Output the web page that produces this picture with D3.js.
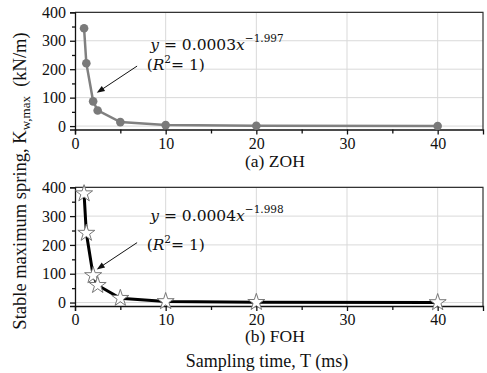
<!DOCTYPE html>
<html>
<head>
<meta charset="utf-8">
<script src="https://cdn.jsdelivr.net/npm/d3@7"></script>
<style>
  body { margin: 0; background: #fff; }
</style>
</head>
<body>
<svg id="chart" width="487" height="373"></svg>
<script>
// sampling time (ms)
const samplingTime = [1, 1.25, 2, 2.5, 5, 10, 20, 40];
// stable maximum spring (kN/m)
const zohValues = [344, 221, 87, 55, 14, 3.4, 0.9, 0.2];
const fohValues = [378, 241, 94, 60, 15, 3.8, 0.9, 0.2];
const xTicks = [0, 10, 20, 30, 40];
const yTicks = [0, 100, 200, 300, 400];

const SERIF = "Liberation Serif";
const MATH = "DejaVu Serif";

const svg = d3.select("#chart");
const left = 75, right = 483;

const x = d3.scaleLinear().domain([0, 45]).range([left, right]);

function drawPanel(cfg) {
    const y = d3.scaleLinear().domain([-12, 400]).range([cfg.bottom, cfg.top]);
    const g = svg.append("g");

    // grid
    g.selectAll(".vgrid").data(xTicks.slice(1))
        .enter().append("line")
        .attr("x1", d => x(d)).attr("x2", d => x(d))
        .attr("y1", cfg.top).attr("y2", cfg.bottom)
        .attr("stroke", "#d9d9d9").attr("stroke-width", 1);
    g.selectAll(".hgrid").data(yTicks)
        .enter().append("line")
        .attr("x1", left).attr("x2", right)
        .attr("y1", d => y(d)).attr("y2", d => y(d))
        .attr("stroke", "#d9d9d9").attr("stroke-width", 1);

    // frame top/right
    g.append("path")
        .attr("d", `M${left},${cfg.top}H${right}V${cfg.bottom}`)
        .attr("fill", "none").attr("stroke", "#333").attr("stroke-width", 1.2);

    // x axis
    g.append("g")
        .attr("transform", `translate(0,${cfg.bottom})`)
        .call(d3.axisBottom(x).tickValues(xTicks).tickSize(5).tickPadding(3).tickFormat(d3.format("d")));
    g.append("g")
        .attr("transform", `translate(0,${cfg.bottom})`)
        .call(d3.axisBottom(x).tickValues([5, 15, 25, 35]).tickSize(4).tickFormat(""))
        .call(s => s.select(".domain").remove());

    // y axis
    g.append("g")
        .attr("transform", `translate(${left},0)`)
        .call(d3.axisLeft(y).tickValues(yTicks).tickSize(5).tickPadding(4));
    g.append("g")
        .attr("transform", `translate(${left},0)`)
        .call(d3.axisLeft(y).tickValues([50, 150, 250, 350]).tickSize(3).tickFormat(""))
        .call(s => s.select(".domain").remove());

    g.selectAll(".tick text").attr("font-size", 16)
        .attr("font-family", SERIF).attr("fill", "#111");
    g.selectAll(".domain, .tick line").attr("stroke", "#111").attr("stroke-width", 1.3);

    // series line
    const line = d3.line().x((d, i) => x(samplingTime[i])).y(d => y(d));
    g.append("path")
        .datum(cfg.values)
        .attr("d", line)
        .attr("fill", "none")
        .attr("stroke", cfg.lineColor)
        .attr("stroke-width", cfg.lineWidth);

    // markers
    if (cfg.marker === "circle") {
        g.selectAll(".pt").data(cfg.values)
            .enter().append("circle")
            .attr("cx", (d, i) => x(samplingTime[i]))
            .attr("cy", d => y(d))
            .attr("r", 4.3)
            .attr("fill", "#7a7a7a");
    } else {
        g.selectAll(".pt").data(cfg.values)
            .enter().append("path")
            .attr("transform", (d, i) => `translate(${x(samplingTime[i])},${y(d)})`)
            .attr("d", d3.symbol().type(d3.symbolStar).size(90))
            .attr("fill", "#fff")
            .attr("stroke", "#777")
            .attr("stroke-width", 1);
    }

    // equation annotation
    const eq = g.append("text")
        .attr("x", x(cfg.eqPos[0])).attr("y", y(cfg.eqPos[1]))
        .attr("font-family", MATH).attr("fill", "#111")
        .attr("font-size", 15.5);
    eq.append("tspan").attr("font-style", "italic").text("y");
    eq.append("tspan").text(" = " + cfg.coef);
    eq.append("tspan").attr("font-style", "italic").text("x");
    eq.append("tspan").attr("dy", -8).attr("font-size", 10.5).text("\u2212" + cfg.expo);

    const r2 = g.append("text")
        .attr("x", x(cfg.r2Pos[0])).attr("y", y(cfg.r2Pos[1]))
        .attr("font-family", MATH).attr("fill", "#111")
        .attr("font-size", 15.5);
    r2.append("tspan").text("(");
    r2.append("tspan").attr("font-style", "italic").text("R");
    r2.append("tspan").attr("dy", -7).attr("font-size", 10.5).text("2");
    r2.append("tspan").attr("dy", 7).text("= 1)");

    // arrow
    const a0 = [x(cfg.arrow[0]), y(cfg.arrow[1])];
    const a1 = [x(cfg.arrow[2]), y(cfg.arrow[3])];
    const ang = Math.atan2(a1[1] - a0[1], a1[0] - a0[0]);
    g.append("line")
        .attr("x1", a0[0]).attr("y1", a0[1])
        .attr("x2", a1[0] - 5 * Math.cos(ang)).attr("y2", a1[1] - 5 * Math.sin(ang))
        .attr("stroke", "#111").attr("stroke-width", 1);
    const hl = 8, hw = 3;
    g.append("path")
        .attr("d", `M${a1[0]},${a1[1]}` +
            `L${a1[0] - hl * Math.cos(ang) + hw * Math.sin(ang)},${a1[1] - hl * Math.sin(ang) - hw * Math.cos(ang)}` +
            `L${a1[0] - hl * Math.cos(ang) - hw * Math.sin(ang)},${a1[1] - hl * Math.sin(ang) + hw * Math.cos(ang)}Z`)
        .attr("fill", "#111");

    // caption
    svg.append("text")
        .attr("x", 245).attr("y", cfg.captionY)
        .attr("font-family", SERIF).attr("fill", "#111")
        .attr("font-size", 17.5)
        .text(cfg.caption);
}

drawPanel({
    top: 12.3, bottom: 129.5,
    values: zohValues,
    lineColor: "#808080", lineWidth: 2.5, marker: "circle",
    coef: "0.0003", expo: "1.997",
    eqPos: [8.3, 268], r2Pos: [7.9, 196],
    arrow: [6.85, 211, 2.4, 117],
    caption: "(a) ZOH", captionY: 166.5
});

drawPanel({
    top: 187.3, bottom: 306,
    values: fohValues,
    lineColor: "#000", lineWidth: 3, marker: "star",
    coef: "0.0004", expo: "1.998",
    eqPos: [8.3, 282], r2Pos: [7.9, 184],
    arrow: [6.85, 208, 2.4, 115],
    caption: "(b) FOH", captionY: 342
});

// axis titles
svg.append("text")
    .attr("x", 267).attr("y", 367)
    .attr("text-anchor", "middle")
    .attr("font-family", SERIF).attr("fill", "#111")
    .attr("font-size", 18)
    .text("Sampling time, T (ms)");

const yl = svg.append("text")
    .attr("transform", "translate(26,181) rotate(-90)")
    .attr("text-anchor", "middle")
    .attr("font-family", SERIF).attr("fill", "#111")
    .attr("font-size", 18.5);
yl.append("tspan").text("Stable maximum spring, K");
yl.append("tspan").attr("dy", 4).attr("font-size", 13).text("w,max");
yl.append("tspan").attr("dy", -4).text("\u2002(kN/m)");
</script>
</body>
</html>
